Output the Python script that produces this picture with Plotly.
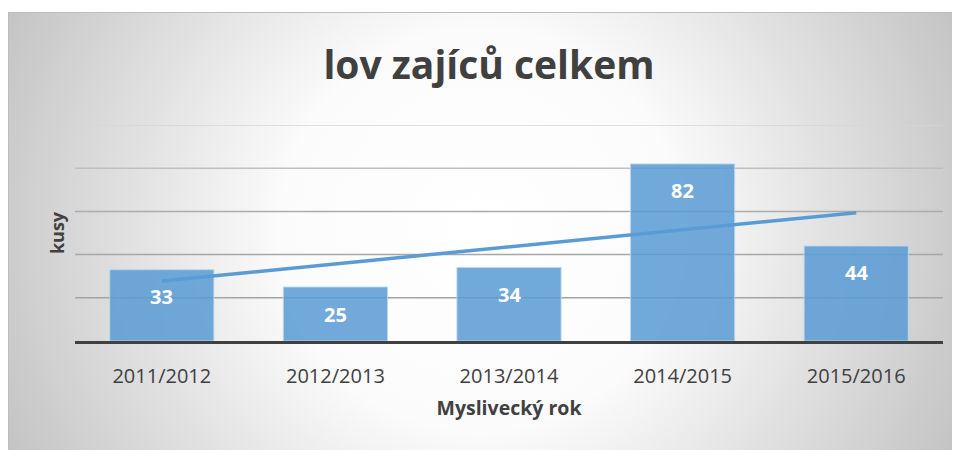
import base64
import numpy as np
import plotly.graph_objects as go

categories = ["2011/2012", "2012/2013", "2013/2014", "2014/2015", "2015/2016"]
values = [33, 25, 34, 82, 44]
grid_levels = [20, 40, 60, 80, 100]

title_text = "lov zajíců celkem"
x_title = "Myslivecký rok"
y_title = "kusy"

# style: gridlines fade towards the top in the reference
grid_colors = ["#a4a4a4", "#a7a7a7", "#acacac", "#bfbfbf", "#d6d6d6"]

# linear trendline of the data (like the spreadsheet's trendline)
idx = np.arange(1, len(values) + 1)
slope, intercept = np.polyfit(idx, values, 1)
trend = list(slope * idx + intercept)

W, H = 960, 450
ml, mr, mt, mb = 67, 25, 117, 117
pw, ph = W - ml - mr, H - mt - mb

svg = f'''<svg xmlns="http://www.w3.org/2000/svg" width="952" height="438" viewBox="0 0 952 438">
<defs><radialGradient id="g" gradientUnits="userSpaceOnUse" cx="472" cy="218" r="525">
<stop offset="0" stop-color="#ffffff"/><stop offset="0.38" stop-color="#fbfbfb"/>
<stop offset="1" stop-color="#c3c3c3"/></radialGradient></defs>
<rect x="0" y="0" width="952" height="438" fill="url(#g)"/>
<path d="M0.5 438 L0.5 0.5 L952 0.5" fill="none" stroke="#bdbdbd" stroke-width="1"/>
</svg>'''
src = "data:image/svg+xml;base64," + base64.b64encode(svg.encode()).decode()

fig = go.Figure()
fig.add_trace(go.Bar(
    x=categories, y=values,
    marker=dict(color="rgba(91,155,213,0.86)", line=dict(color="rgba(189,215,238,0.9)", width=1)),
    width=0.6, hoverinfo="x+y", showlegend=False,
))
fig.add_trace(go.Scatter(
    x=categories, y=trend, mode="lines",
    line=dict(color="#5b9bd5", width=3.5), showlegend=False, hoverinfo="skip",
))
for c, v in zip(categories, values):
    fig.add_annotation(x=c, y=v, text=f"<b>{v}</b>", showarrow=False, yshift=-27,
                       font=dict(family="Open Sans", size=20, color="white"))

for lv, col in zip(grid_levels, grid_colors):
    fig.add_shape(type="line", xref="paper", x0=0, x1=1, yref="y", y0=lv, y1=lv,
                  line=dict(color=col, width=1.5), layer="below")

fig.add_layout_image(dict(
    source=src, xref="paper", yref="paper",
    x=(0 - ml) / pw, y=(H - mb - 4) / ph,
    sizex=952 / pw, sizey=438 / ph,
    xanchor="left", yanchor="top", sizing="stretch", layer="below",
))

fig.update_layout(
    width=W, height=H,
    margin=dict(l=ml, r=mr, t=mt, b=mb),
    paper_bgcolor="white", plot_bgcolor="rgba(0,0,0,0)",
    title=dict(text=f"<b>{title_text}</b>", x=(481 - ml) / pw, xref="paper", xanchor="center",
               y=1 - 57 / H, yanchor="middle",
               font=dict(family="Open Sans", size=39, color="#404040")),
    xaxis=dict(
        type="category", showgrid=False, showline=True, linecolor="#404040", linewidth=3,
        ticks="outside", ticklen=15, tickcolor="rgba(0,0,0,0)",
        tickfont=dict(family="Open Sans", size=20, color="#404040"),
        title=dict(text=f"<b>{x_title}</b>", font=dict(family="Open Sans", size=19.5, color="#404040"),
                   standoff=14),
        fixedrange=True,
    ),
    yaxis=dict(
        range=[0, 100], showticklabels=False, showgrid=False,
        zeroline=False, showline=False,
        title=dict(text=f"<b>{y_title}</b>", font=dict(family="Open Sans", size=18, color="#404040"),
                   standoff=4),
        fixedrange=True,
    ),
    bargap=0.4,
)

fig.write_html("out.html")
